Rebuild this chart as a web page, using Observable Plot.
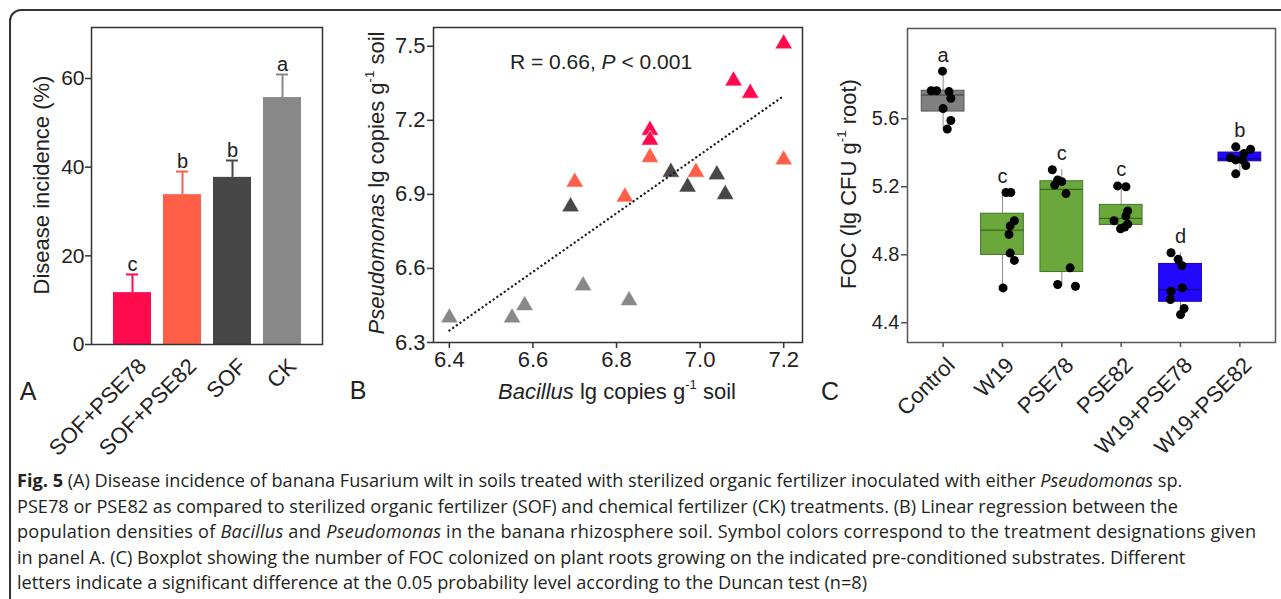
<!DOCTYPE html>
<html><head><meta charset="utf-8">
<script src="https://cdn.jsdelivr.net/npm/d3@7"></script>
<script src="https://cdn.jsdelivr.net/npm/@observablehq/plot@0.6"></script>
<style>
html,body{margin:0;padding:0;background:#fff;width:1281px;height:599px;overflow:hidden;}
#fig{position:relative;width:1281px;height:599px;overflow:hidden;font-family:"Liberation Sans",Arial,sans-serif;}
#border{position:absolute;left:9px;top:9px;width:1400px;height:700px;border:2px solid #333;border-radius:12px;box-sizing:border-box;}
.panel{position:absolute;top:0;}
#caption{position:absolute;left:17px;top:468px;font-family:"Open Sans";font-size:18.15px;line-height:25.5px;color:#231f20;white-space:nowrap;}
#caption b{font-weight:700;}
</style></head>
<body><div id="fig"><div id="border"></div>
<div id="pa" class="panel" style="left:0px"></div>
<div id="pb" class="panel" style="left:345px"></div>
<div id="pc" class="panel" style="left:815px"></div>
<div id="caption">
<div><b>Fig. 5</b> (A) Disease incidence of banana Fusarium wilt in soils treated with sterilized organic fertilizer inoculated with either <i>Pseudomonas</i> sp.</div>
<div>PSE78 or PSE82 as compared to sterilized organic fertilizer (SOF) and chemical fertilizer (CK) treatments. (B) Linear regression between the</div>
<div style="letter-spacing:0.2px">population densities of <i>Bacillus</i> and <i>Pseudomonas</i> in the banana rhizosphere soil. Symbol colors correspond to the treatment designations given</div>
<div>in panel A. (C) Boxplot showing the number of FOC colonized on plant roots growing on the indicated pre-conditioned substrates. Different</div>
<div>letters indicate a significant difference at the 0.05 probability level according to the Duncan test (n=8)</div>
</div>
</div>
<script>
// ---------- Panel A data ----------
const treatmentsA = ["SOF+PSE78", "SOF+PSE82", "SOF", "CK"];
const incidence = [11.7, 33.8, 37.7, 55.7];
const incidenceErr = [4.1, 5.2, 3.8, 5.2];
const lettersA = ["c", "b", "b", "a"];
const colorsA = ["#ff0a4c", "#ff5f46", "#474747", "#888888"];
const ticksA = [0, 20, 40, 60];

// ---------- Panel B data (Bacillus x, Pseudomonas y) ----------
const bacillusSOFPSE78 = [7.20, 7.08, 7.12, 6.88, 6.88];
const pseudoSOFPSE78   = [7.51, 7.36, 7.31, 7.16, 7.12];
const bacillusSOFPSE82 = [7.20, 6.88, 6.70, 6.82, 6.99];
const pseudoSOFPSE82   = [7.04, 7.05, 6.95, 6.89, 6.99];
const bacillusSOF      = [6.93, 6.97, 7.04, 7.06, 6.69];
const pseudoSOF        = [6.99, 6.93, 6.98, 6.90, 6.85];
const bacillusCK       = [6.40, 6.55, 6.58, 6.72, 6.83];
const pseudoCK         = [6.40, 6.40, 6.45, 6.53, 6.47];
const ticksBx = [6.4, 6.6, 6.8, 7.0, 7.2];
const ticksBy = [6.3, 6.6, 6.9, 7.2, 7.5];

// ---------- Panel C data (FOC lg CFU g-1 root) ----------
const categoriesC = ["Control", "W19", "PSE78", "PSE82", "W19+PSE78", "W19+PSE82"];
const focControl = [5.88, 5.765, 5.765, 5.76, 5.72, 5.66, 5.59, 5.54];
const focW19     = [5.166, 5.166, 5.00, 4.97, 4.92, 4.81, 4.767, 4.605];
const focPSE78   = [5.30, 5.24, 5.23, 5.21, 5.16, 4.723, 4.625, 4.615];
const focPSE82   = [5.205, 5.20, 5.058, 5.028, 5.00, 4.98, 4.963, 4.953];
const focW19PSE78 = [4.812, 4.773, 4.737, 4.605, 4.586, 4.537, 4.484, 4.448];
const focW19PSE82 = [5.435, 5.42, 5.395, 5.37, 5.358, 5.358, 5.325, 5.276];
// horizontal jitter (in category units)
const jitterControl = [-0.01, -0.20, -0.11, 0.10, 0.13, 0.0, 0.13, 0.07];
const jitterW19     = [0.06, 0.14, 0.20, 0.13, 0.11, 0.13, 0.20, 0.01];
const jitterPSE78   = [-0.16, -0.07, 0.0, -0.12, 0.07, 0.14, -0.07, 0.23];
const jitterPSE82   = [-0.06, 0.08, 0.11, 0.08, -0.12, 0.11, 0.06, -0.01];
const jitterW19PSE78 = [-0.16, -0.04, 0.02, 0.03, -0.16, -0.17, 0.06, 0.0];
const jitterW19PSE82 = [-0.07, 0.18, 0.07, -0.16, -0.07, 0.04, 0.10, -0.07];
const lettersC = ["a", "c", "c", "c", "d", "b"];
const boxFill = ["#808080", "#6aa83c", "#6aa83c", "#6aa83c", "#2208ff", "#2208ff"];
const boxEdge = ["#555555", "#44742a", "#44742a", "#44742a", "#1400b0", "#1400b0"];
const boxMid  = ["#3a3a3a", "#2f5a1a", "#2f5a1a", "#2f5a1a", "#0c0070", "#0c0070"];
const ticksCy = [4.4, 4.8, 5.2, 5.6];

const FONT = "'Liberation Sans', Arial, sans-serif";
const supTitle = (sel, parts) => {
  parts.forEach(([t, s]) => {
    const ts = sel.append("tspan").text(t);
    if (s === "i") ts.attr("font-style", "italic");
    if (s === "sup") ts.attr("font-size", "0.6em").attr("dy", "-0.75em");
    if (s === "after") ts.attr("dy", "0.45em");
  });
};

// ---------- Panel A ----------
const tableA = treatmentsA.map((t, i) => ({t, v: incidence[i], top: incidence[i] + incidenceErr[i], letter: lettersA[i], col: colorsA[i]}));
const A = Plot.plot({
  width: 340, height: 420, marginLeft: 91, marginRight: 18, marginTop: 27, marginBottom: 76,
  style: {fontFamily: FONT, fontSize: "21px", color: "#222", background: "transparent", overflow: "visible"},
  x: {type: "band", domain: treatmentsA, paddingInner: 0.24, paddingOuter: 0.43, axis: null},
  y: {domain: [0, 71.5]},
  color: {type: "identity"},
  marks: [
    Plot.ruleX(tableA, {x: "t", y1: "v", y2: "top", stroke: "col", strokeWidth: 2}),
    Plot.tickY(tableA, {x: "t", y: "top", stroke: "col", strokeWidth: 2, inset: 13}),
    Plot.barY(tableA, {x: "t", y: "v", fill: "col"}),
    Plot.text(tableA, {x: "t", y: "top", text: "letter", dy: -10, fontSize: 20}),
    Plot.frame({stroke: "#333", strokeWidth: 1.5}),
    Plot.axisY(ticksA, {tickSize: 6, tickPadding: 1, label: null, stroke: "#333", strokeWidth: 1.5}),
    Plot.text(treatmentsA, {x: d => d, frameAnchor: "bottom", rotate: -45, textAnchor: "end", lineAnchor: "top", dx: 4, dy: 12, fontSize: 22, fill: "#222"})
  ]
});
document.getElementById("pa").appendChild(A);
{
  const s = d3.select(A);
  s.append("text").attr("transform", "translate(49,185) rotate(-90)").attr("text-anchor", "middle")
    .attr("font-size", 22).attr("fill", "#222").text("Disease incidence (%)");
  s.append("text").attr("x", 28).attr("y", 400).attr("font-size", 25).attr("fill", "#222").text("A");
}

// ---------- Panel B ----------
const pointsB = [];
[[bacillusSOFPSE78, pseudoSOFPSE78], [bacillusSOFPSE82, pseudoSOFPSE82], [bacillusSOF, pseudoSOF], [bacillusCK, pseudoCK]]
  .forEach(([bx, py], gi) => bx.forEach((b, k) => pointsB.push({b, p: py[k], g: treatmentsA[gi]})));
const B = Plot.plot({
  width: 470, height: 420, marginLeft: 88, marginRight: 13, marginTop: 27, marginBottom: 78,
  style: {fontFamily: FONT, fontSize: "22px", color: "#222", background: "transparent", overflow: "visible"},
  x: {domain: [6.362, 7.245]},
  y: {domain: [6.3, 7.576]},
  color: {domain: treatmentsA, range: colorsA},
  marks: [
    Plot.dot(pointsB, {x: "b", y: "p", symbol: "triangle", r: 6.5, fill: "g", stroke: "#fff", strokeWidth: 0.6}),
    Plot.linearRegressionY(pointsB, {x: "b", y: "p", ci: 0, stroke: "#1a1a1a", strokeWidth: 2.3, strokeDasharray: "0.1,4.4", strokeLinecap: "round"}),
    Plot.frame({stroke: "#333", strokeWidth: 1.5}),
    Plot.axisX(ticksBx, {tickFormat: d => d.toFixed(1), tickSize: 6, tickPadding: 3, label: null, stroke: "#333", strokeWidth: 1.5}),
    Plot.axisY(ticksBy, {tickFormat: d => d.toFixed(1), tickSize: 6, tickPadding: 2, label: null, stroke: "#333", strokeWidth: 1.5})
  ]
});
document.getElementById("pb").appendChild(B);
{
  const s = d3.select(B);
  const t1 = s.append("text").attr("transform", "translate(39,183) rotate(-90)").attr("text-anchor", "middle")
    .attr("font-size", 22).attr("fill", "#222");
  supTitle(t1, [["Pseudomonas", "i"], [" lg copies g", ""], ["-1", "sup"], [" soil", "after"]]);
  const t2 = s.append("text").attr("x", 272).attr("y", 399).attr("text-anchor", "middle")
    .attr("font-size", 22).attr("fill", "#222");
  supTitle(t2, [["Bacillus", "i"], [" lg copies g", ""], ["-1", "sup"], [" soil", "after"]]);
  const t3 = s.append("text").attr("x", 256).attr("y", 69).attr("text-anchor", "middle")
    .attr("font-size", 21).attr("fill", "#222");
  supTitle(t3, [["R = 0.66, ", ""], ["P", "i"], [" < 0.001", ""]]);
  s.append("text").attr("x", 13).attr("y", 399).attr("font-size", 25).attr("fill", "#222").text("B");
}

// ---------- Panel C ----------
const seriesC = [focControl, focW19, focPSE78, focPSE82, focW19PSE78, focW19PSE82];
const jittersC = [jitterControl, jitterW19, jitterPSE78, jitterPSE82, jitterW19PSE78, jitterW19PSE82];
const pointsC = [];
seriesC.forEach((vals, i) => vals.forEach((v, k) => pointsC.push({x: i + jittersC[i][k], y: v})));
const statsC = seriesC.map((vals, i) => {
  const s = vals.slice().sort(d3.ascending);
  const q1 = d3.quantile(s, 0.25), med = d3.quantile(s, 0.5), q3 = d3.quantile(s, 0.75);
  const iqr = q3 - q1;
  const lo = d3.min(s.filter(v => v >= q1 - 1.5 * iqr));
  const hi = d3.max(s.filter(v => v <= q3 + 1.5 * iqr));
  return {i, q1, med, q3, lo, hi, max: d3.max(s), letter: lettersC[i], fill: boxFill[i], edge: boxEdge[i], mid: boxMid[i]};
});
const HALF = 0.36;
const idxC = d3.range(categoriesC.length);
const C = Plot.plot({
  width: 466, height: 420, marginLeft: 92, marginRight: 6, marginTop: 28, marginBottom: 78,
  style: {fontFamily: FONT, fontSize: "20px", color: "#222", background: "transparent", overflow: "visible"},
  x: {domain: [-0.6, 5.6]},
  y: {domain: [4.284, 6.131]},
  color: {type: "identity"},
  marks: [
    Plot.ruleX(statsC, {x: "i", y1: "lo", y2: "hi", stroke: "#8a8a8a", strokeWidth: 1}),
    Plot.rectY(statsC, {x1: d => d.i - HALF, x2: d => d.i + HALF, y1: "q1", y2: "q3", fill: "fill", stroke: "edge", strokeWidth: 1}),
    Plot.ruleY(statsC, {x1: d => d.i - HALF, x2: d => d.i + HALF, y: "med", stroke: "mid", strokeWidth: 1}),
    Plot.dot(pointsC, {x: "x", y: "y", r: 4.5, fill: "#000"}),
    Plot.text(statsC, {x: "i", y: "max", text: "letter", dy: -16, fontSize: 20}),
    Plot.frame({stroke: "#555", strokeWidth: 1.5}),
    Plot.axisY(ticksCy, {tickFormat: d => d.toFixed(1), tickSize: 6, tickPadding: 2, label: null, stroke: "#555", strokeWidth: 1.5}),
    Plot.axisX(idxC, {tickFormat: () => "", tickSize: 5, label: null, stroke: "#555", strokeWidth: 1.5}),
    Plot.text(idxC, {x: d => d, text: i => categoriesC[i], frameAnchor: "bottom", rotate: -45, textAnchor: "end", lineAnchor: "top", dx: 2, dy: 13, fontSize: 22, fill: "#222"})
  ]
});
document.getElementById("pc").appendChild(C);
{
  const s = d3.select(C);
  const t1 = s.append("text").attr("transform", "translate(41,184) rotate(-90)").attr("text-anchor", "middle")
    .attr("font-size", 22).attr("fill", "#222");
  supTitle(t1, [["FOC (lg CFU g", ""], ["-1", "sup"], [" root)", "after"]]);
  s.append("text").attr("x", 15).attr("y", 400).attr("font-size", 25).attr("fill", "#222").text("C");
}
</script>
</body></html>
